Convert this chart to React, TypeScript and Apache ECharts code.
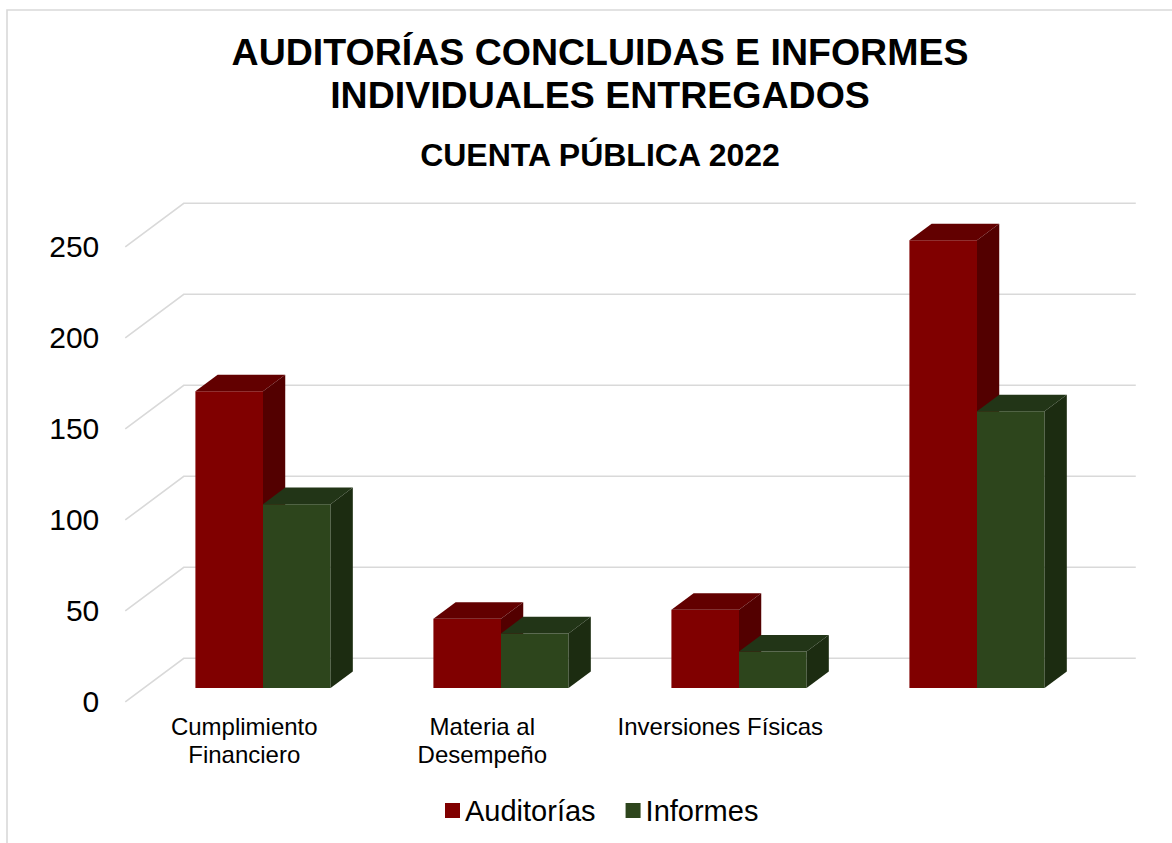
import React, { useEffect, useRef } from "react";
import * as echarts from "echarts";

const categories = ["Cumplimiento\nFinanciero", "Materia al\nDesempeño", "Inversiones Físicas", ""];
const auditorias = [163, 38, 43, 246];
const informes = [101, 30, 20, 152];
const yTicks = [0, 50, 100, 150, 200, 250];

const FONT = "'Liberation Sans', Arial, Helvetica, sans-serif";
const DX = 58.5; // depth vector of the 3D box
const DY = -43.7;
const F_FRONT = 0.32; // bar front depth fraction
const F_DEPTH = 0.38; // bar depth fraction
const BAR_FRAC = 0.284; // bar width as fraction of category band

const G0 = { left: 144, right: 76, top: 233, bottom: 155 };
const G1 = {
  left: G0.left - F_FRONT * DX,
  right: G0.right + F_FRONT * DX,
  top: G0.top - F_FRONT * DY,
  bottom: G0.bottom + F_FRONT * DY,
};

const COLORS = [
  { front: "#800000", top: "#620000", side: "#530000" },
  { front: "#2d451c", top: "#223517", side: "#1c2c11" },
];

function makeBarRenderer(sIdx: number) {
  return (params: any, api: any) => {
    const cat = api.value(0);
    const val = api.value(1);
    const band = api.size([1, 0])[0];
    const barW = band * BAR_FRAC;
    const base = api.coord([cat, 0]);
    const top = api.coord([cat, val]);
    const x0 = base[0] - barW + sIdx * barW;
    const x1 = x0 + barW;
    const yT = top[1];
    const yB = base[1];
    const dx = DX * F_DEPTH;
    const dy = DY * F_DEPTH;
    const c = COLORS[sIdx];
    return {
      type: "group",
      children: [
        { type: "rect", shape: { x: x0, y: yT, width: barW, height: yB - yT }, style: { fill: c.front } },
        {
          type: "polygon",
          shape: { points: [[x0, yT], [x0 + dx, yT + dy], [x1 + dx, yT + dy], [x1, yT]] },
          style: { fill: c.top },
        },
        {
          type: "polygon",
          shape: { points: [[x1, yT], [x1 + dx, yT + dy], [x1 + dx, yB + dy], [x1, yB]] },
          style: { fill: c.side },
        },
      ],
    };
  };
}

function renderGrid(params: any, api: any) {
  const v = api.value(0);
  const cs = params.coordSys;
  const p = api.coord([0, v]);
  const y = p[1];
  const fx = cs.x - F_FRONT * DX;
  const fy = y - F_FRONT * DY;
  const bx = cs.x + (1 - F_FRONT) * DX;
  const by = y + (1 - F_FRONT) * DY;
  const rx = cs.x + cs.width + (1 - F_FRONT) * DX;
  return {
    type: "polyline",
    shape: { points: [[fx, fy], [bx, by], [rx, by]] },
    style: { stroke: "#d9d9d9", lineWidth: 1.6, fill: "none" },
    silent: true,
  };
}

export default function App() {
  const ref = useRef<HTMLDivElement>(null);
  useEffect(() => {
    if (!ref.current) return;
    const chart = echarts.init(ref.current, null, { renderer: "svg" });
    const option: any = {
      animation: false,
      backgroundColor: "#ffffff",
      textStyle: { fontFamily: FONT },
      title: [
        {
          text: "AUDITORÍAS CONCLUIDAS E INFORMES\nINDIVIDUALES ENTREGADOS",
          left: 595,
          textAlign: "center",
          top: 25,
          textStyle: { fontFamily: FONT, fontSize: 37.5, fontWeight: "bold", color: "#000", lineHeight: 43, align: "center" },
        },
        {
          text: "CUENTA PÚBLICA 2022",
          left: 595,
          textAlign: "center",
          top: 132,
          textStyle: { fontFamily: FONT, fontSize: 32, fontWeight: "bold", color: "#000", lineHeight: 36 },
        },
      ],
      legend: {
        data: ["Auditorías", "Informes"],
        bottom: 13,
        left: 440,
        icon: "rect",
        itemWidth: 15,
        itemHeight: 15,
        itemGap: 30,
        textStyle: { fontFamily: FONT, fontSize: 29, color: "#000" },
      },
      graphic: [
        {
          type: "rect",
          shape: { x: 7, y: 10, width: 1300, height: 1000 },
          style: { fill: "none", stroke: "#d9d9d9", lineWidth: 1.6 },
          silent: true,
          z: -10,
        },
      ],
      grid: [
        { ...G0, containLabel: false },
        { ...G1, containLabel: false },
      ],
      xAxis: [
        { type: "category", gridIndex: 0, data: categories, show: false },
        {
          type: "category",
          gridIndex: 1,
          data: categories,
          axisLine: { show: false },
          axisTick: { show: false },
          splitLine: { show: false },
          axisLabel: { fontFamily: FONT, fontSize: 24, color: "#000", lineHeight: 28, margin: 11, interval: 0 },
        },
      ],
      yAxis: [
        { type: "value", gridIndex: 0, min: 0, max: 250, interval: 50, show: false },
        {
          type: "value",
          gridIndex: 1,
          min: 0,
          max: 250,
          interval: 50,
          axisLine: { show: false },
          axisTick: { show: false },
          splitLine: { show: false },
          axisLabel: { fontFamily: FONT, fontSize: 30, color: "#000", margin: 26 },
        },
      ],
      series: [
        {
          type: "custom",
          name: "grid",
          xAxisIndex: 0,
          yAxisIndex: 0,
          data: yTicks.map((v) => [v]),
          encode: { y: 0 },
          renderItem: renderGrid,
          silent: true,
          z: 1,
        },
        {
          type: "custom",
          name: "Auditorías",
          xAxisIndex: 0,
          yAxisIndex: 0,
          itemStyle: { color: COLORS[0].front },
          data: auditorias.map((v, i) => [i, v]),
          encode: { x: 0, y: 1 },
          renderItem: makeBarRenderer(0),
          z: 2,
        },
        {
          type: "custom",
          name: "Informes",
          xAxisIndex: 0,
          yAxisIndex: 0,
          itemStyle: { color: COLORS[1].front },
          data: informes.map((v, i) => [i, v]),
          encode: { x: 0, y: 1 },
          renderItem: makeBarRenderer(1),
          z: 3,
        },
      ],
    };
    chart.setOption(option);
    return () => chart.dispose();
  }, []);
  return (
    <div
      ref={ref}
      style={{ position: "fixed", left: 0, top: 0, width: 1172, height: 843, background: "#fff" }}
    />
  );
}
